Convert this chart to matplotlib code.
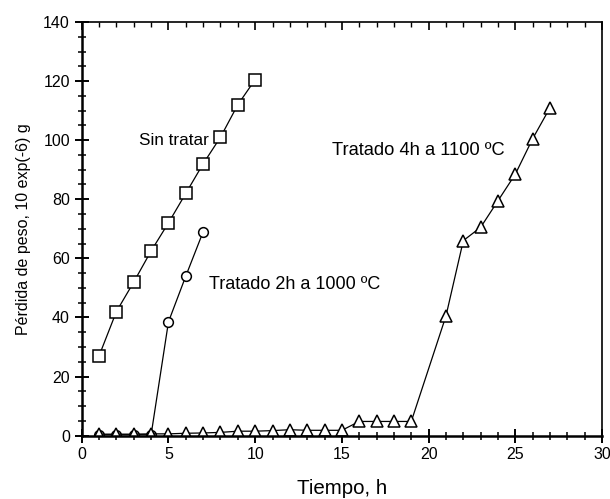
import matplotlib
matplotlib.use("Agg")
import matplotlib.pyplot as plt
from matplotlib.ticker import MultipleLocator

plt.rcParams['font.family'] = ['Liberation Sans', 'DejaVu Sans']

# Data
x_sin = [1, 2, 3, 4, 5, 6, 7, 8, 9, 10]
y_sin = [27, 42, 52, 62.5, 72, 82, 92, 101, 112, 120.5]

x_2h = [1, 2, 3, 4, 5, 6, 7]
y_2h = [0.3, 0.3, 0.3, 0.3, 38.5, 54, 69]

x_4h = [1, 2, 3, 4, 5, 6, 7, 8, 9, 10, 11, 12, 13, 14, 15, 16, 17, 18, 19,
        21, 22, 23, 24, 25, 26, 27]
y_4h = [0.5, 0.5, 0.5, 0.6, 0.6, 0.8, 0.9, 1.1, 1.5, 1.5, 1.7, 2.0, 1.8, 1.8, 1.8,
        4.8, 4.8, 4.8, 4.8, 40.5, 66, 70.5, 79.5, 88.5, 100.5, 111]

label_sin = "Sin tratar"
label_2h = "Tratado 2h a 1000 ºC"
label_4h = "Tratado 4h a 1100 ºC"

fig = plt.figure(figsize=(6.10, 4.99), dpi=100)
ax = fig.add_axes([0.134, 0.127, 0.853, 0.829])

mk = dict(color='black', lw=0.9, markerfacecolor='white', markeredgecolor='black',
          markeredgewidth=1.1)
ax.plot(x_2h, y_2h, marker='o', markersize=7, **mk)
ax.plot(x_sin, y_sin, marker='s', markersize=8, **mk)
ax.plot(x_4h, y_4h, marker='^', markersize=8.5, **mk)

ax.set_xlim(0, 30)
ax.set_ylim(0, 140)
ax.xaxis.set_major_locator(MultipleLocator(5))
ax.xaxis.set_minor_locator(MultipleLocator(1))
ax.yaxis.set_major_locator(MultipleLocator(20))
ax.yaxis.set_minor_locator(MultipleLocator(5))

ax.tick_params(axis='x', which='major', direction='inout', length=10, width=1.4,
               top=False, labelsize=11.5)
ax.tick_params(axis='x', which='minor', direction='inout', length=6, width=1.1, top=False)
ax.tick_params(axis='y', which='major', direction='inout', length=10, width=1.4,
               right=False, labelsize=11.5)
ax.tick_params(axis='y', which='minor', direction='inout', length=6, width=1.1, right=False)
for s in ax.spines.values():
    s.set_linewidth(1.2)
ax.spines['bottom'].set_linewidth(1.8)
ax.spines['left'].set_linewidth(1.8)

# top ticks (inward) via secondary axis
sec = ax.secondary_xaxis('top')
sec.xaxis.set_major_locator(MultipleLocator(5))
sec.xaxis.set_minor_locator(MultipleLocator(1))
sec.tick_params(which='major', direction='in', length=6, width=1.2, labeltop=False)
sec.tick_params(which='minor', direction='in', length=3.5, width=1.0)
sec.spines['top'].set_visible(False)

ax.set_xlabel("Tiempo, h", fontsize=14.8, labelpad=12)
ax.set_ylabel("Pérdida de peso, 10 exp(-6) g", fontsize=11.5, labelpad=9)

ax.text(3.3, 100, label_sin, fontsize=12.3, ha='left', va='center')
ax.text(7.35, 51, label_2h, fontsize=13, ha='left', va='center')
ax.text(14.45, 96.5, label_4h, fontsize=13.2, ha='left', va='center')

fig.savefig("out.png", dpi=100)
